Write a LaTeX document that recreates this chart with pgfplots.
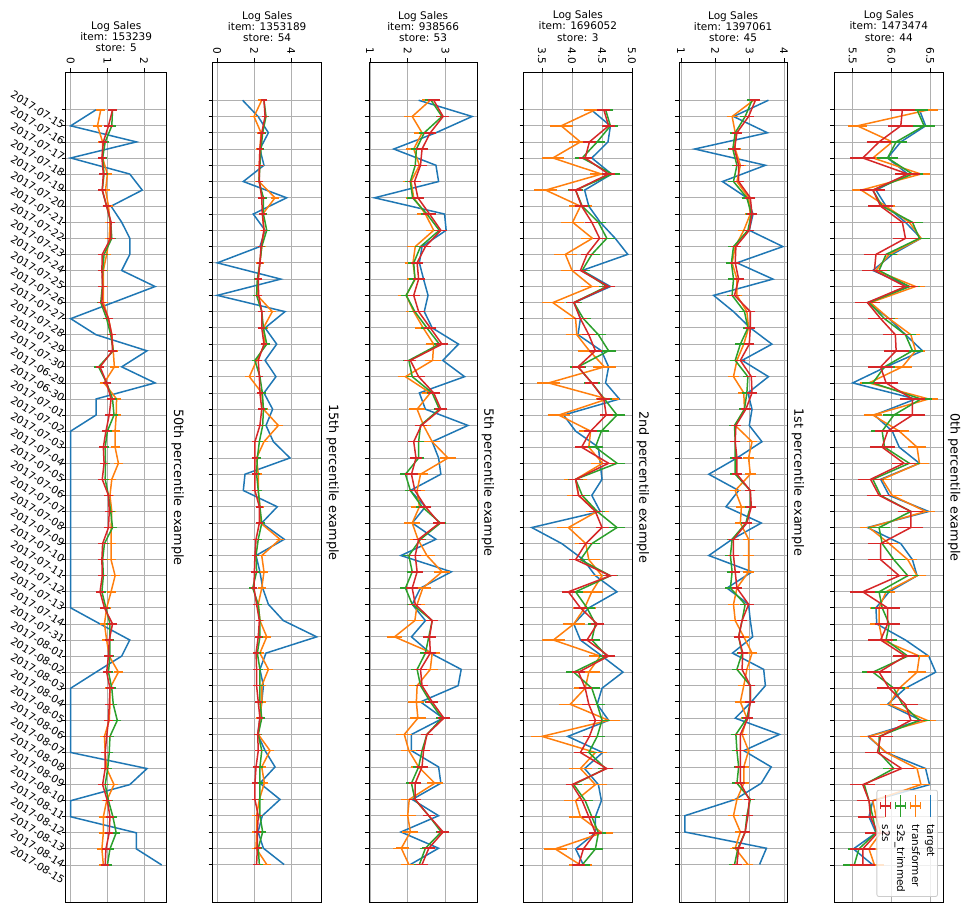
\documentclass[border=0pt]{standalone}
\usepackage{fontspec}
\setmainfont{DejaVu Sans}
\usepackage{pgfplots}
\usepackage{pgfplotstable}
\pgfplotsset{compat=1.18}
\definecolor{tblue}{HTML}{1F77B4}
\definecolor{torange}{HTML}{FF7F0E}
\definecolor{tgreen}{HTML}{2CA02C}
\definecolor{tred}{HTML}{D62728}
\definecolor{gridgray}{HTML}{B0B0B0}
\definecolor{legedge}{HTML}{CCCCCC}

\pgfplotstableread{
i t o g r
0 0.69 0.82 1.14 1.14
1 0.00 0.73 1.12 1.03
2 1.79 0.87 0.94 0.89
3 0.00 0.87 0.87 0.85
4 1.61 1.00 0.91 0.89
5 1.95 0.95 0.86 0.86
6 1.10 1.03 0.98 0.98
7 1.39 1.07 1.09 1.10
8 1.61 1.05 1.12 1.09
9 1.61 0.98 0.91 0.86
10 1.39 0.89 0.87 0.85
11 2.30 0.89 0.86 0.87
12 1.15 0.89 0.82 0.85
13 0.00 1.03 0.98 1.03
14 0.69 1.12 1.09 1.12
15 2.08 1.16 1.16 1.14
16 1.39 1.19 0.76 0.80
17 2.30 0.91 0.98 0.98
18 0.69 1.25 1.14 1.10
19 0.69 1.24 1.18 1.05
20 0.00 1.21 1.00 0.96
21 0.00 1.21 0.94 0.89
22 0.00 1.30 0.95 0.91
23 0.00 1.12 0.94 0.86
24 0.00 1.07 1.03 1.03
25 0.00 1.12 1.09 1.05
26 0.00 1.10 1.14 1.03
27 0.00 1.10 0.92 0.87
28 0.00 1.10 0.87 0.85
29 0.00 1.21 0.89 0.86
30 0.00 1.10 0.85 0.80
31 0.00 0.98 0.96 0.92
32 0.80 0.92 1.07 1.14
33 1.61 0.98 1.07 1.05
34 1.39 1.05 1.07 1.03
35 0.69 1.30 1.03 0.98
36 0.00 1.07 1.12 1.07
37 0.00 1.07 1.16 1.05
38 0.00 1.05 1.27 1.03
39 0.00 0.92 1.07 0.98
40 0.00 0.94 1.05 0.94
41 2.08 0.98 1.01 0.94
42 1.61 1.18 0.94 0.87
43 0.00 0.98 1.03 1.00
44 0.00 0.89 1.15 1.07
45 1.79 0.89 1.24 1.05
46 1.79 0.85 1.07 0.96
47 2.48 0.89 1.00 0.94
}\tabA

\pgfplotstableread{
i t o g r
0 1.37 2.41 2.53 2.53
1 2.21 1.99 2.64 2.59
2 2.77 2.37 2.46 2.41
3 2.31 2.31 2.37 2.31
4 2.53 2.28 2.31 2.28
5 1.41 2.26 2.26 2.28
6 3.76 3.13 2.50 2.41
7 1.95 2.46 2.50 2.44
8 2.59 2.53 2.68 2.53
9 2.31 2.41 2.41 2.37
10 0.00 2.31 2.31 2.31
11 3.44 2.22 2.17 2.22
12 0.00 2.17 2.13 2.24
13 3.67 2.98 2.41 2.41
14 2.59 2.50 2.50 2.41
15 3.22 2.59 2.68 2.53
16 2.59 2.13 2.04 2.22
17 3.18 1.74 2.31 2.28
18 2.53 2.41 2.44 2.31
19 3.00 2.50 2.50 2.41
20 2.64 3.31 2.46 2.31
21 3.04 2.53 2.28 2.04
22 3.94 2.13 2.17 2.04
23 1.50 2.22 2.13 2.04
24 1.41 2.22 2.22 2.04
25 3.25 2.31 2.31 2.28
26 2.41 2.35 2.41 2.28
27 3.63 3.40 2.22 2.10
28 2.10 2.41 2.10 2.04
29 2.31 2.53 2.13 2.01
30 2.46 2.41 1.92 1.99
31 2.77 2.22 2.22 2.13
32 3.58 2.31 2.31 2.28
33 5.39 2.68 2.31 2.22
34 2.64 2.31 2.17 2.10
35 2.31 2.77 2.31 2.13
36 2.50 2.41 2.31 2.13
37 2.41 2.41 2.31 2.22
38 2.31 2.31 2.41 2.31
39 2.19 2.22 2.22 2.19
40 2.59 2.86 2.41 2.22
41 3.13 2.41 2.31 2.10
42 2.31 2.55 2.31 2.04
43 3.40 2.28 2.31 2.04
44 2.44 2.13 2.31 2.22
45 2.21 2.13 2.46 2.17
46 2.50 2.10 2.22 2.17
47 3.62 2.68 2.28 2.13
}\tabB

\pgfplotstableread{
i t o g r
0 2.29 2.60 2.62 2.69
1 3.71 2.12 2.91 2.94
2 2.75 2.38 2.44 2.60
3 1.63 2.16 2.23 2.38
4 2.75 2.31 2.20 2.34
5 2.82 2.09 2.07 2.18
6 1.12 2.16 2.13 2.27
7 2.98 2.47 2.51 2.58
8 3.02 2.69 2.84 2.88
9 2.38 2.20 2.34 2.47
10 2.31 2.14 2.16 2.25
11 2.42 2.20 2.19 2.29
12 2.54 1.96 1.96 2.16
13 2.44 2.16 2.19 2.29
14 2.65 2.41 2.51 2.60
15 3.35 2.69 2.84 2.91
16 2.93 2.66 2.03 2.07
17 3.51 1.94 2.12 2.29
18 2.31 2.60 2.65 2.69
19 2.47 2.25 2.84 2.88
20 3.60 2.42 2.34 2.36
21 2.65 2.65 2.29 2.16
22 2.82 3.07 2.29 2.22
23 2.88 2.34 1.94 2.10
24 2.07 2.25 2.07 2.19
25 2.47 2.31 2.38 2.47
26 2.12 2.12 2.87 2.84
27 2.75 2.27 2.34 2.29
28 1.82 2.51 2.03 2.20
29 3.16 2.91 2.12 2.25
30 2.34 2.40 1.94 2.12
31 2.12 2.25 2.12 2.20
32 2.47 2.19 2.65 2.65
33 2.10 1.65 2.56 2.58
34 2.60 2.65 2.47 2.60
35 3.42 2.60 2.25 2.34
36 3.34 2.25 2.34 2.38
37 2.34 2.23 2.60 2.65
38 2.94 2.27 2.91 2.96
39 2.10 1.91 2.51 2.51
40 2.10 2.03 2.38 2.42
41 2.82 2.29 2.29 2.38
42 2.88 2.72 2.10 2.20
43 2.12 2.04 2.19 2.20
44 2.82 2.00 2.56 2.56
45 1.82 2.07 2.89 2.94
46 2.82 1.83 2.47 2.56
47 2.07 2.03 2.31 2.38
}\tabC

\pgfplotstableread{
i t o g r
0 4.32 4.39 4.56 4.53
1 4.64 3.82 4.64 4.61
2 4.60 4.14 4.42 4.29
3 4.33 3.68 4.17 4.22
4 4.66 4.49 4.67 4.61
5 4.21 3.56 4.06 4.06
6 4.28 4.14 4.17 4.16
7 4.47 4.01 4.44 4.33
8 4.72 4.34 4.58 4.46
9 4.93 3.89 4.33 4.25
10 4.17 4.00 4.17 4.14
11 4.64 4.33 4.58 4.61
12 4.04 3.68 4.03 4.03
13 4.14 4.06 4.19 4.14
14 4.10 4.08 4.44 4.28
15 4.49 4.29 4.61 4.39
16 4.61 4.54 4.10 4.10
17 4.56 3.61 4.33 4.33
18 4.79 4.59 4.54 4.53
19 3.86 3.78 4.75 4.57
20 4.06 4.31 4.49 4.31
21 4.44 4.28 4.39 4.16
22 4.47 4.51 4.75 4.61
23 4.50 4.06 4.06 4.06
24 4.33 4.11 4.17 4.11
25 4.47 4.42 4.42 4.39
26 3.33 3.94 4.75 4.50
27 3.83 4.23 4.33 4.23
28 4.19 4.28 4.14 4.06
29 4.39 4.50 4.64 4.64
30 4.75 4.33 4.06 3.94
31 4.28 4.21 4.25 4.14
32 4.03 4.03 4.39 4.42
33 4.14 3.69 4.33 4.25
34 4.50 4.47 4.58 4.61
35 4.85 4.28 4.03 4.11
36 4.50 4.22 4.33 4.22
37 4.42 3.97 4.42 4.28
38 4.61 4.61 4.50 4.39
39 3.93 3.50 4.42 4.29
40 4.51 4.39 4.28 4.14
41 4.21 4.14 4.56 4.58
42 4.44 4.39 4.03 4.00
43 4.49 4.06 4.22 4.17
44 4.39 4.14 4.33 4.28
45 4.39 4.50 4.44 4.39
46 4.06 3.72 4.39 4.19
47 4.19 4.14 4.17 4.11
}\tabD

\pgfplotstableread{
i t o g r
0 3.55 3.12 3.07 3.17
1 2.53 2.49 2.87 2.97
2 3.52 2.58 2.58 2.63
3 1.40 2.58 2.51 2.56
4 3.46 2.73 2.63 2.68
5 2.21 2.63 2.53 2.68
6 2.92 2.97 2.92 3.02
7 3.10 3.02 3.05 3.07
8 2.99 2.83 2.95 2.99
9 3.97 2.58 2.53 2.60
10 2.63 2.49 2.47 2.58
11 3.68 2.63 2.53 2.68
12 1.95 2.63 2.49 2.56
13 2.53 2.92 2.85 3.02
14 3.02 2.97 2.95 3.02
15 3.65 2.83 2.73 2.99
16 2.78 2.63 2.58 2.73
17 3.55 2.53 2.95 3.05
18 2.95 2.83 2.92 3.07
19 3.07 2.85 2.85 2.89
20 2.99 2.58 2.56 2.60
21 3.36 3.07 2.58 2.58
22 2.63 2.97 2.58 2.63
23 1.81 3.02 2.58 2.63
24 2.68 2.58 3.02 3.02
25 2.31 2.76 3.02 3.05
26 3.34 2.73 2.89 2.92
27 2.49 2.97 2.49 2.53
28 1.81 2.97 2.44 2.53
29 3.07 2.97 2.49 2.58
30 2.34 2.63 2.44 2.63
31 2.97 2.53 2.87 2.97
32 3.02 2.58 2.78 2.78
33 3.09 2.83 2.68 2.68
34 2.50 3.07 2.78 2.80
35 3.41 2.92 2.63 2.78
36 3.46 2.83 3.02 3.02
37 3.05 2.73 3.02 3.02
38 2.58 2.92 2.92 2.95
39 3.87 2.78 2.60 2.73
40 2.83 2.97 2.63 2.73
41 3.63 2.83 2.68 2.73
42 3.34 2.83 2.63 2.73
43 2.58 2.63 3.02 2.99
44 1.11 2.53 2.92 2.95
45 1.11 2.73 2.87 2.87
46 3.49 2.58 2.66 2.68
47 3.29 2.95 2.56 2.63
}\tabE

\pgfplotstableread{
i t o g r
0 6.36 6.48 6.33 6.14
1 6.44 5.56 6.42 6.12
2 6.12 6.01 6.06 5.84
3 5.95 5.76 5.95 5.63
4 6.21 6.38 6.27 6.21
5 5.80 5.61 5.76 5.76
6 5.93 5.93 5.88 5.86
7 6.18 6.23 6.27 6.14
8 6.38 6.38 6.36 6.18
9 6.01 5.97 5.93 5.80
10 5.76 5.80 5.84 5.78
11 6.23 6.31 6.23 6.18
12 5.69 5.73 5.71 5.69
13 5.97 5.97 5.91 5.86
14 6.18 6.25 6.18 6.05
15 6.40 6.31 6.27 6.06
16 5.93 6.14 5.91 5.86
17 5.50 5.71 5.76 5.93
18 6.31 6.48 6.38 6.27
19 5.78 5.76 6.03 6.27
20 6.01 6.10 5.88 5.95
21 6.10 6.33 5.91 5.88
22 6.36 6.36 6.23 6.16
23 5.86 5.88 5.76 5.73
24 5.97 6.01 5.86 5.84
25 6.48 6.44 6.25 6.25
26 5.69 5.71 5.84 6.25
27 6.12 5.97 5.88 5.86
28 6.27 6.21 6.03 5.86
29 6.33 6.33 6.21 6.10
30 5.97 5.93 5.84 5.63
31 5.80 5.84 5.88 5.95
32 5.81 5.84 5.97 5.95
33 6.18 5.88 5.93 5.86
34 6.48 6.36 6.21 6.18
35 6.57 6.33 5.76 5.84
36 6.18 6.10 6.03 5.97
37 5.95 5.97 6.14 6.18
38 6.38 6.46 6.36 6.25
39 5.70 5.71 5.84 5.86
40 5.93 5.93 5.84 5.82
41 6.44 6.33 6.03 6.13
42 6.49 6.38 5.65 5.63
43 5.76 5.76 5.71 5.71
44 5.71 5.80 5.76 5.73
45 5.80 5.86 5.80 5.82
46 5.51 5.71 5.58 5.63
47 5.76 5.78 5.52 5.63
}\tabF

\newcommand{\legline}[1]{\tikz[baseline=-0.6ex]{\draw[#1, line width=1.5pt] (0pt,0pt) -- (22pt,0pt);}}
\newcommand{\legerr}[1]{\tikz[baseline=-0.6ex]{\draw[#1, line width=1.5pt] (0pt,0pt) -- (22pt,0pt) (11pt,-5pt) -- (11pt,5pt) (7.5pt,-5pt) -- (14.5pt,-5pt) (7.5pt,5pt) -- (14.5pt,5pt);}}

\pgfplotsset{
  panel/.style={
    scale only axis,
    y dir=reverse, ymin=-2.35, ymax=49.35,
    ytick={0,...,47}, yticklabels={},
    xtick pos=right, xticklabel pos=right, ytick pos=left,
    tick align=outside, major tick length=4pt,
    every tick/.style={black, line width=0.8pt},
    grid=major, major grid style={gridgray, line width=0.8pt},
    axis line style={line width=0.8pt},
    /pgf/number format/assume math mode=true,
    tick label style={font=\fontsize{10.5}{12}\selectfont},
    xticklabel style={rotate=-90, anchor=east},
    title style={at={(0.5,1)}, anchor=south, yshift=14pt, inner sep=0pt,
      align=center, font=\fontsize{10.5}{11.3}\selectfont},
  },
  rlab/.style={extra description/.code={
    \node[rotate=-90, anchor=south, inner sep=0pt,
      font=\fontsize{12.8}{14}\selectfont]
      at ([xshift=4.5pt]axis description cs:1,0.5) {#1};}},
  tline/.style={color=tblue, line width=1.5pt, mark=none},
  ebar/.style 2 args={color=#1, line width=1.5pt, mark=none,
    error bars/.cd, x dir=both, x fixed=#2,
    error bar style={line width=1.5pt},
    error mark options={color=#1, line width=1.5pt, mark size=2.3pt}},
}

\begin{document}
\begin{tikzpicture}
\path[use as bounding box] (0pt,0pt) rectangle (967pt,-906pt);

% Panel 1
\begin{axis}[panel, at={(65.7pt,-902.7pt)}, anchor=south west,
  width=101pt, height=830.7pt, xmin=-0.136, xmax=2.616, xtick={0,1,2},
  title={Log Sales\\item: 153239\\store: 5}, rlab={50th percentile example},
  yticklabels={2017-07-15,2017-07-16,2017-07-17,2017-07-18,2017-07-19,2017-07-20,2017-07-21,2017-07-22,2017-07-23,2017-07-24,2017-07-25,2017-07-26,2017-07-27,2017-07-28,2017-07-29,2017-07-30,2017-06-29,2017-06-30,2017-07-01,2017-07-02,2017-07-03,2017-07-04,2017-07-05,2017-07-06,2017-07-07,2017-07-08,2017-07-09,2017-07-10,2017-07-11,2017-07-12,2017-07-13,2017-07-14,2017-07-31,2017-08-01,2017-08-02,2017-08-03,2017-08-04,2017-08-05,2017-08-06,2017-08-07,2017-08-08,2017-08-09,2017-08-10,2017-08-11,2017-08-12,2017-08-13,2017-08-14,2017-08-15},
  yticklabel style={xshift=-24pt, rotate=-32, anchor=center}]
\addplot[tline] table[x=t, y=i] {\tabA};
\addplot[ebar={torange}{0.06}] table[x=o, y=i] {\tabA};
\addplot[ebar={tgreen}{0.05}] table[x=g, y=i] {\tabA};
\addplot[ebar={tred}{0.05}] table[x=r, y=i] {\tabA};
\end{axis}

% Panel 2
\begin{axis}[panel, at={(212.7pt,-902.7pt)}, anchor=south west,
  width=109pt, height=840.7pt, xmin=-0.25, xmax=5.66, xtick={0,2,4},
  title={Log Sales\\item: 1353189\\store: 54}, rlab={15th percentile example}]
\addplot[tline] table[x=t, y=i] {\tabB};
\addplot[ebar={torange}{0.1}] table[x=o, y=i] {\tabB};
\addplot[ebar={tgreen}{0.06}] table[x=g, y=i] {\tabB};
\addplot[ebar={tred}{0.06}] table[x=r, y=i] {\tabB};
\end{axis}

% Panel 3
\begin{axis}[panel, at={(369.3pt,-902.7pt)}, anchor=south west,
  width=107.7pt, height=840.7pt, xmin=0.98, xmax=3.84, xtick={1,2,3},
  title={Log Sales\\item: 938566\\store: 53}, rlab={5th percentile example}]
\addplot[tline] table[x=t, y=i] {\tabC};
\addplot[ebar={torange}{0.15}] table[x=o, y=i] {\tabC};
\addplot[ebar={tgreen}{0.09}] table[x=g, y=i] {\tabC};
\addplot[ebar={tred}{0.1}] table[x=r, y=i] {\tabC};
\end{axis}

% Panel 4
\begin{axis}[panel, at={(523.7pt,-902.7pt)}, anchor=south west,
  width=108.3pt, height=830.7pt, xmin=3.195, xmax=5.0, xtick={3.5,4.0,4.5,5.0},
  xticklabel style={/pgf/number format/fixed, /pgf/number format/fixed zerofill, /pgf/number format/precision=1},
  title style={yshift=10.5pt},
  title={Log Sales\\item: 1696052\\store: 3}, rlab={2nd percentile example}]
\addplot[tline] table[x=t, y=i] {\tabD};
\addplot[ebar={torange}{0.15}] table[x=o, y=i] {\tabD};
\addplot[ebar={tgreen}{0.09}] table[x=g, y=i] {\tabD};
\addplot[ebar={tred}{0.07}] table[x=r, y=i] {\tabD};
\end{axis}

% Panel 5
\begin{axis}[panel, at={(679.3pt,-902.7pt)}, anchor=south west,
  width=107.7pt, height=840.7pt, xmin=0.95, xmax=4.09, xtick={1,2,3,4},
  title={Log Sales\\item: 1397061\\store: 45}, rlab={1st percentile example}]
\addplot[tline] table[x=t, y=i] {\tabE};
\addplot[ebar={torange}{0.09}] table[x=o, y=i] {\tabE};
\addplot[ebar={tgreen}{0.08}] table[x=g, y=i] {\tabE};
\addplot[ebar={tred}{0.08}] table[x=r, y=i] {\tabE};
\end{axis}

% Panel 6
\begin{axis}[panel, at={(834.3pt,-902.7pt)}, anchor=south west,
  width=109pt, height=830.7pt, xmin=5.263, xmax=6.668, xtick={5.5,6.0,6.5},
  xticklabel style={/pgf/number format/fixed, /pgf/number format/fixed zerofill, /pgf/number format/precision=1},
  title style={yshift=10.5pt},
  title={Log Sales\\item: 1473474\\store: 44}, rlab={0th percentile example},
  after end axis/.code={
    \node[rotate=-90, anchor=north east, draw=legedge, line width=0.8pt,
      rounded corners=2pt, fill=white, fill opacity=0.8, text opacity=1,
      inner xsep=4pt, inner ysep=3pt, align=left,
      font=\fontsize{10.5}{15}\selectfont]
      at (axis description cs:0.951,0.007)
      {\legline{tblue}\hspace{7pt}target\\
       \legerr{torange}\hspace{7pt}transformer\\
       \legerr{tgreen}\hspace{7pt}s2s\_trimmed\\
       \legerr{tred}\hspace{7pt}s2s};
  }]
\addplot[tline] table[x=t, y=i] {\tabF};
\addplot[ebar={torange}{0.09}] table[x=o, y=i] {\tabF};
\addplot[ebar={tgreen}{0.11}] table[x=g, y=i] {\tabF};
\addplot[ebar={tred}{0.13}] table[x=r, y=i] {\tabF};
\end{axis}
\end{tikzpicture}
\end{document}
